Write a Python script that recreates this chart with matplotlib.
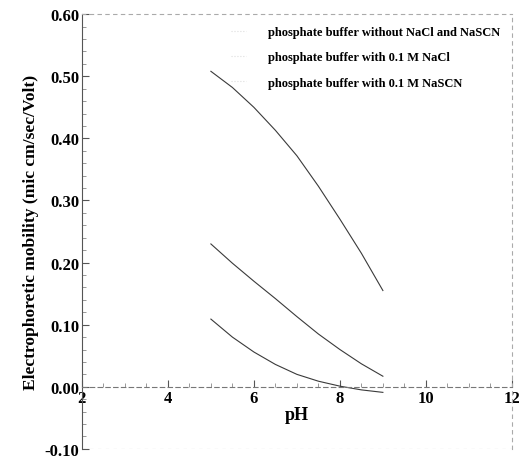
import numpy as np
import matplotlib.pyplot as plt

# values
ph = [5.0, 5.5, 6.0, 6.5, 7.0, 7.5, 8.0, 8.5, 9.0]
mob_no_salt = [0.508, 0.482, 0.45, 0.413, 0.372, 0.323, 0.27, 0.215, 0.155]
mob_nacl = [0.23, 0.199, 0.17, 0.142, 0.113, 0.085, 0.06, 0.037, 0.017]
mob_nascn = [0.109, 0.08, 0.056, 0.036, 0.02, 0.009, 0.001, -0.005, -0.009]
labels = ['phosphate buffer without NaCl and NaSCN',
          'phosphate buffer with 0.1 M NaCl',
          'phosphate buffer with 0.1 M NaSCN']
yticks = [-0.10, 0.00, 0.10, 0.20, 0.30, 0.40, 0.50, 0.60]
xticks = [2, 4, 6, 8, 10, 12]

plt.rcParams['font.family'] = ['Liberation Serif', 'DejaVu Serif']
plt.rcParams['font.weight'] = 'bold'

fig = plt.figure(figsize=(5.25, 4.6), dpi=100)
ax = fig.add_axes([0.156, 0.022, 0.819, 0.945])

for y, lab in zip([mob_no_salt, mob_nacl, mob_nascn], labels):
    ax.plot(ph, y, color='#3a3a3a', lw=0.8, label=lab)

ax.set_xlim(2, 12)
ax.set_ylim(-0.10, 0.60)
ax.set_xticks(xticks)
ax.set_yticks(yticks)
ax.set_yticklabels([f'{v:.2f}' for v in yticks])
ax.tick_params(direction='in', labelsize=12, length=5, color='#555555', pad=2)
ax.minorticks_on()
ax.tick_params(which='minor', direction='in', length=3, color='#888888')

# x axis drawn through zero, frame as faint dotted lines
ax.spines['bottom'].set_position(('data', 0))
ax.spines['bottom'].set_linestyle((0, (4, 3)))
ax.spines['bottom'].set_color('#777777')
ax.spines['left'].set_color('#555555')
ax.spines['left'].set_linestyle((0, (2, 1)))
for s in ['top', 'right']:
    ax.spines[s].set_linestyle((0, (3, 4)))
    ax.spines[s].set_color('#aaaaaa')
ax.axhline(-0.10, color='#aaaaaa', lw=0.8, ls=(0, (3, 4)))

ax.text(7, -0.044, 'pH', ha='center', va='center', fontsize=13, fontweight='bold')
ax.set_ylabel('Electrophoretic mobility (mic cm/sec/Volt)', fontsize=12.6,
              fontweight='bold', labelpad=4)

leg = ax.legend(loc='upper right', frameon=False, fontsize=9, handlelength=1.2,
                handletextpad=1.8, labelspacing=1.05, bbox_to_anchor=(1.0, 0.998))
for h in leg.get_lines():
    h.set_color('#dddddd')
    h.set_linestyle(':')

fig.savefig('out.png', dpi=100)
